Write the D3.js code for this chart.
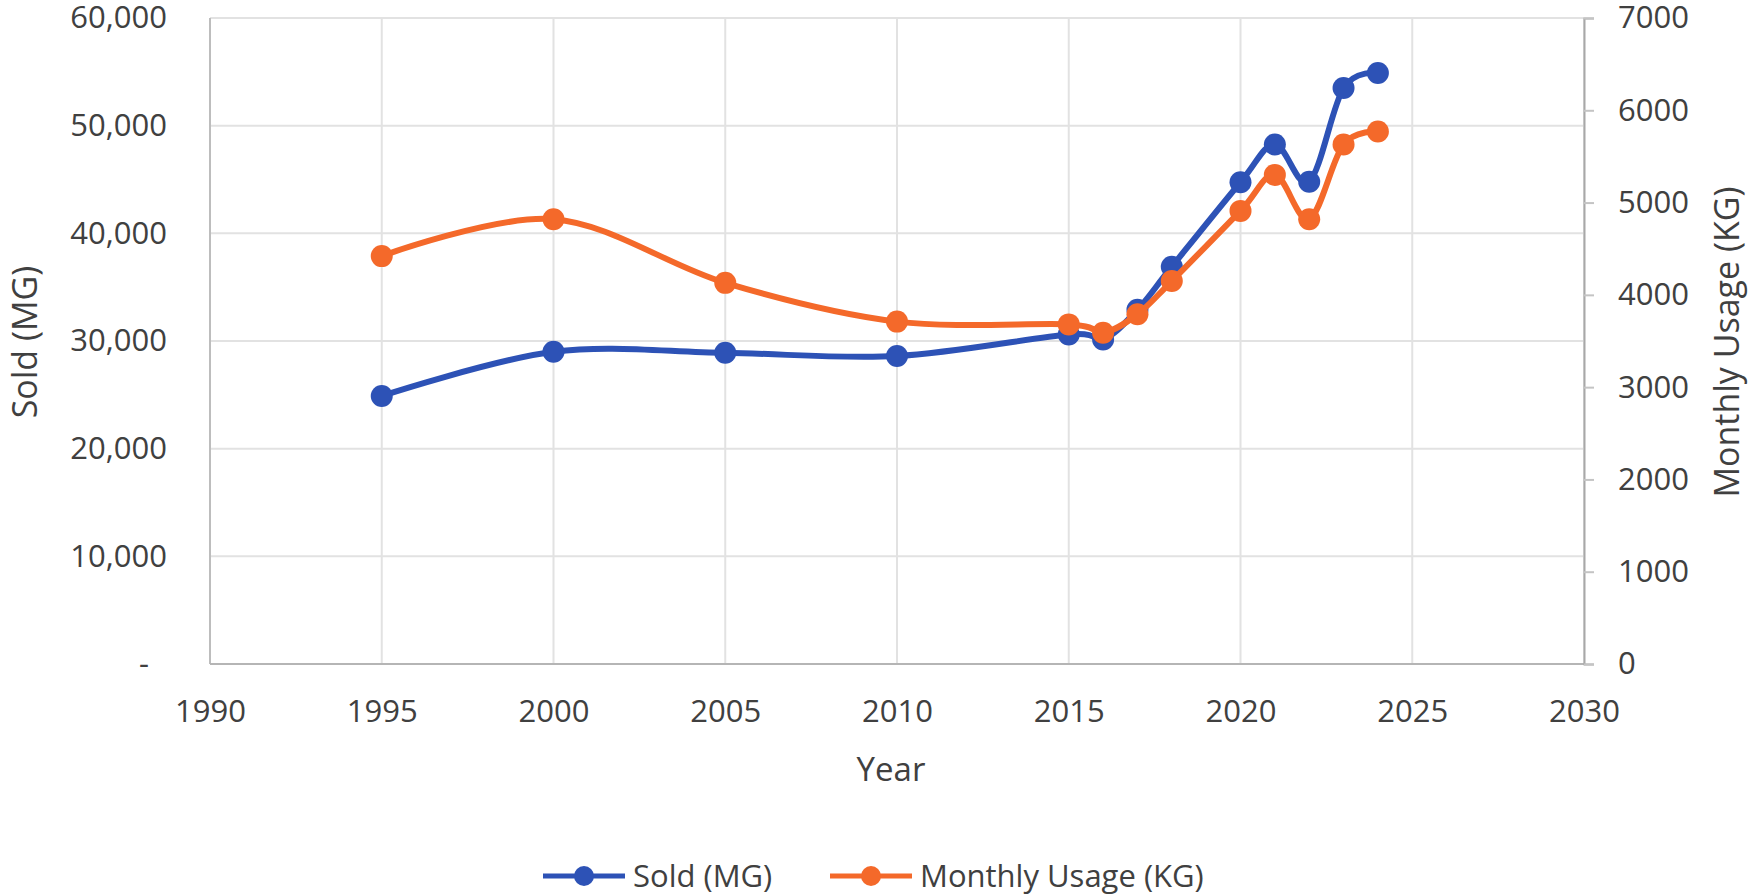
<!DOCTYPE html>
<html>
<head>
<meta charset="utf-8">
<script src="https://cdn.jsdelivr.net/npm/d3@7"></script>
<style>
  body { margin: 0; background: #fff; }
  svg text { font-family: "Open Sans", sans-serif; fill: #404040; }
</style>
</head>
<body>
<svg id="chart"></svg>
<script>
// data
var years = [1995, 2000, 2005, 2010, 2015, 2016, 2017, 2018, 2020, 2021, 2022, 2023, 2024];
var sold = [24900, 29000, 28900, 28600, 30600, 30150, 32900, 36900, 44750, 48250, 44800, 53500, 54900];
var usage = [4420, 4820, 4130, 3710, 3680, 3590, 3790, 4150, 4910, 5300, 4820, 5630, 5770];
var xTicks = [1990, 1995, 2000, 2005, 2010, 2015, 2020, 2025, 2030];
var leftTicks = [0, 10000, 20000, 30000, 40000, 50000, 60000];
var rightTicks = [0, 1000, 2000, 3000, 4000, 5000, 6000, 7000];

var seriesNames = ["Sold (MG)", "Monthly Usage (KG)"];
var colors = ["#2d52b6", "#f4692a"];

var svgWidth = 1750,
    svgHeight = 895;
var margin = { top: 18, right: 166, bottom: 231, left: 210 };
var width = svgWidth - margin.left - margin.right,
    height = svgHeight - margin.top - margin.bottom;

var svg = d3.select("#chart")
    .attr("width", svgWidth)
    .attr("height", svgHeight);

var g = svg.append("g")
    .attr("transform", "translate(" + margin.left + "," + margin.top + ")");

var x = d3.scaleLinear().domain([1990, 2030]).range([0, width]);
var yL = d3.scaleLinear().domain([0, 60000]).range([height, 0]);
var yR = d3.scaleLinear().domain([0, 7000]).range([height, 0]);

// gridlines
g.append("g")
    .selectAll("line")
    .data(leftTicks)
    .join("line")
    .attr("x1", 0).attr("x2", width)
    .attr("y1", d => yL(d)).attr("y2", d => yL(d))
    .attr("stroke", "#e2e2e2").attr("stroke-width", 2);

g.append("g")
    .selectAll("line")
    .data(xTicks)
    .join("line")
    .attr("x1", d => x(d)).attr("x2", d => x(d))
    .attr("y1", 0).attr("y2", height)
    .attr("stroke", "#e2e2e2").attr("stroke-width", 2);

// axis lines
g.append("line")
    .attr("x1", 0).attr("x2", 0).attr("y1", 0).attr("y2", height)
    .attr("stroke", "#bdbdbd").attr("stroke-width", 2);
g.append("line")
    .attr("x1", 0).attr("x2", width).attr("y1", height).attr("y2", height)
    .attr("stroke", "#b5b5b5").attr("stroke-width", 2);

// bottom axis
var xAxis = g.append("g")
    .attr("transform", "translate(0," + height + ")")
    .call(d3.axisBottom(x).tickValues(xTicks).tickFormat(d3.format("d")).tickSize(0).tickPadding(36));
xAxis.select(".domain").remove();
xAxis.selectAll("text").style("font-size", "31px");

// left axis ("-" for zero, accounting style)
var leftAxis = g.append("g")
    .call(d3.axisLeft(yL).tickValues(leftTicks)
        .tickFormat(d => d === 0 ? "-" : d3.format(",")(d))
        .tickSize(0).tickPadding(43));
leftAxis.select(".domain").remove();
leftAxis.selectAll("text").style("font-size", "31px")
    .attr("dx", d => d === 0 ? -18 : 0);

// right axis
var rightAxis = g.append("g")
    .attr("transform", "translate(" + width + ",0)")
    .call(d3.axisRight(yR).tickValues(rightTicks).tickFormat(d3.format("d")).tickSize(10).tickPadding(24));
rightAxis.select(".domain").attr("stroke", "#a8a8a8").attr("stroke-width", 2);
rightAxis.selectAll(".tick line").attr("stroke", "#c4c4c4").attr("stroke-width", 2);
rightAxis.selectAll("text").style("font-size", "31px");

// axis titles
svg.append("text")
    .attr("transform", "translate(37,342) rotate(-90)")
    .attr("text-anchor", "middle")
    .style("font-size", "34px")
    .text("Sold (MG)");

svg.append("text")
    .attr("transform", "translate(1739,342) rotate(-90)")
    .attr("text-anchor", "middle")
    .style("font-size", "34px")
    .text("Monthly Usage (KG)");

g.append("text")
    .attr("x", x(2010) - 6)
    .attr("y", height + 117)
    .attr("text-anchor", "middle")
    .style("font-size", "33px")
    .text("Year");

// series
var soldData = years.map((d, i) => ({ year: d, value: sold[i] }));
var usageData = years.map((d, i) => ({ year: d, value: usage[i] }));

function drawSeries(data, yScale, color) {
    var line = d3.line()
        .x(d => x(d.year))
        .y(d => yScale(d.value))
        .curve(d3.curveCatmullRom.alpha(0)); // smoothed line
    g.append("path")
        .datum(data)
        .attr("fill", "none")
        .attr("stroke", color)
        .attr("stroke-width", 6)
        .attr("stroke-linejoin", "round")
        .attr("stroke-linecap", "round")
        .attr("d", line);
    g.append("g")
        .selectAll("circle")
        .data(data)
        .join("circle")
        .attr("cx", d => x(d.year))
        .attr("cy", d => yScale(d.value))
        .attr("r", 11)
        .attr("fill", color);
}

drawSeries(soldData, yL, colors[0]);
drawSeries(usageData, yR, colors[1]);

// legend
var legendY = 876;
var legendItems = [
    { name: seriesNames[0], color: colors[0], x0: 543 },
    { name: seriesNames[1], color: colors[1], x0: 830 }
];
var lg = svg.append("g");
legendItems.forEach(function (item) {
    lg.append("line")
        .attr("x1", item.x0).attr("x2", item.x0 + 82)
        .attr("y1", legendY).attr("y2", legendY)
        .attr("stroke", item.color).attr("stroke-width", 5);
    lg.append("circle")
        .attr("cx", item.x0 + 41).attr("cy", legendY).attr("r", 10)
        .attr("fill", item.color);
    lg.append("text")
        .attr("x", item.x0 + 90)
        .attr("y", legendY)
        .attr("dy", "0.35em")
        .style("font-size", "31px")
        .text(item.name);
});
</script>
</body>
</html>
